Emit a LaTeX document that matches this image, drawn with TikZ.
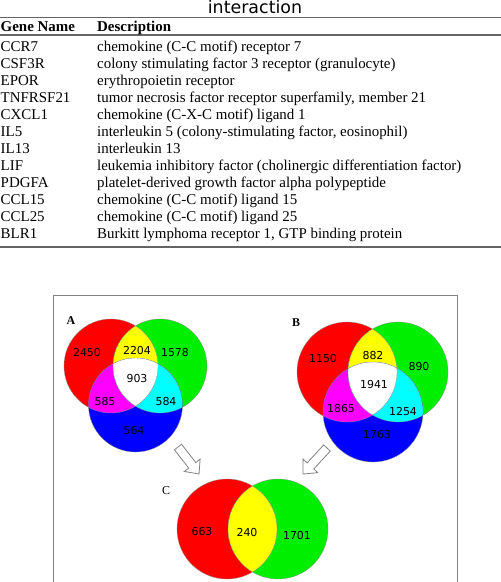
\documentclass[tikz,border=0pt]{standalone}
\usepackage{fontspec}
\setmainfont{Liberation Serif}
\newfontfamily\numfont{DejaVu Sans}
\usetikzlibrary{calc}
\definecolor{vred}{RGB}{255,0,0}
\definecolor{vgreen}{RGB}{0,238,0}
\definecolor{vblue}{RGB}{0,0,255}
\definecolor{vyellow}{RGB}{255,255,0}
\definecolor{vmag}{RGB}{255,0,255}
\definecolor{vcyan}{RGB}{0,255,255}
\definecolor{rulegray}{RGB}{100,100,100}
\definecolor{framegray}{RGB}{130,130,130}
\newcommand\vennThree[4]{%
  \fill[vred] (#1) circle[radius=#4];
  \fill[vgreen] (#2) circle[radius=#4];
  \fill[vblue] (#3) circle[radius=#4];
  \begin{scope}\clip (#1) circle[radius=#4]; \fill[vyellow] (#2) circle[radius=#4]; \end{scope}
  \begin{scope}\clip (#1) circle[radius=#4]; \fill[vmag] (#3) circle[radius=#4]; \end{scope}
  \begin{scope}\clip (#2) circle[radius=#4]; \fill[vcyan] (#3) circle[radius=#4]; \end{scope}
  \begin{scope}\clip (#1) circle[radius=#4]; \clip (#2) circle[radius=#4]; \fill[white] (#3) circle[radius=#4]; \end{scope}
  \draw[vennline] (#1) circle[radius=#4] (#2) circle[radius=#4] (#3) circle[radius=#4];
}
\newcommand\hollowArrow[2]{%
  \coordinate (ha-h) at ($(#2)!11bp!(#1)$);
  \draw[blockarrow] ($(#1)!4.5bp!90:(#2)$) -- ($(ha-h)!4.5bp!90:(#2)$) -- ($(ha-h)!10bp!90:(#2)$) -- (#2)
    -- ($(ha-h)!10bp!-90:(#2)$) -- ($(ha-h)!4.5bp!-90:(#2)$) -- ($(#1)!4.5bp!-90:(#2)$) -- cycle;
}
\begin{document}
\begin{tikzpicture}[x=1bp,y=-1bp,
  cell/.style={anchor=base west, inner sep=0pt, font=\fontsize{15}{16}\selectfont},
  headcell/.style={anchor=base west, inner sep=0pt, font=\fontsize{15}{16}\selectfont\bfseries},
  num/.style={inner sep=0pt, font=\numfont\fontsize{11}{12}\selectfont},
  panel/.style={inner sep=0pt, font=\fontsize{12}{13}\selectfont\bfseries},
  vennline/.style={draw=black!45, line width=0.3bp},
  blockarrow/.style={draw=framegray, fill=white, line width=0.8bp, line join=miter}
]
\useasboundingbox (0,0) rectangle (501,582);
\clip (0,0) rectangle (501,582);

% title and table
\node[anchor=base, inner sep=0pt, font=\numfont\fontsize{17.5}{18}\selectfont] (title) at (255,13.3) {interaction};
\draw[rulegray, line width=1.6bp] (-5,17.5) -- (506,17.5);
\draw[rulegray, line width=1.1bp] (-5,35) -- (506,35);
\draw[rulegray, line width=1.6bp] (-5,247) -- (506,247);
\node[headcell] (hg) at (0.5,31.5) {Gene Name};
\node[headcell] (hd) at (97,31.5) {Description};
\foreach \g/\d [count=\i from 0] in {
  CCR7/{chemokine (C-C motif) receptor 7},
  CSF3R/{colony stimulating factor 3 receptor (granulocyte)},
  EPOR/{erythropoietin receptor},
  TNFRSF21/{tumor necrosis factor receptor superfamily, member 21},
  CXCL1/{chemokine (C-X-C motif) ligand 1},
  IL5/{interleukin 5 (colony-stimulating factor, eosinophil)},
  IL13/{interleukin 13},
  LIF/{leukemia inhibitory factor (cholinergic differentiation factor)},
  PDGFA/{platelet-derived growth factor alpha polypeptide},
  CCL15/{chemokine (C-C motif) ligand 15},
  CCL25/{chemokine (C-C motif) ligand 25},
  BLR1/{Burkitt lymphoma receptor 1, GTP binding protein}} {
  \node[cell] (g\i) at (0.5,51.5+17*\i) {\g};
  \node[cell] (d\i) at (97,51.5+17*\i) {\d};
}

% frame
\draw[framegray, line width=1bp] (53.5,600) -- (53.5,295) -- (457,295) -- (457,600);

% Venn A
\coordinate (Ar) at (111,366);
\coordinate (Ag) at (160,366);
\coordinate (Ab) at (135.5,405);
\vennThree{Ar}{Ag}{Ab}{47bp}
\node[panel] (lA) at (71,321) {A};
\node[num] (a1) at (87,353) {2450};
\node[num] (a2) at (137,351) {2204};
\node[num] (a3) at (175,353) {1578};
\node[num] (a4) at (137,379) {903};
\node[num] (a5) at (105,402) {585};
\node[num] (a6) at (166,402) {584};
\node[num] (a7) at (134,431) {564};

% Venn B
\coordinate (Br) at (347,372);
\coordinate (Bg) at (398,372);
\coordinate (Bb) at (373,412);
\vennThree{Br}{Bg}{Bb}{50bp}
\node[panel] (lB) at (296,323) {B};
\node[num] (b1) at (323,359) {1150};
\node[num] (b2) at (373,356) {882};
\node[num] (b3) at (419,367) {890};
\node[num] (b4) at (374,385) {1941};
\node[num] (b5) at (341,409) {1865};
\node[num] (b6) at (403,412) {1254};
\node[num] (b7) at (377,435) {1763};

% Venn C
\coordinate (Cr) at (227,529);
\coordinate (Cg) at (278,529);
\fill[vred] (Cr) circle[radius=50bp];
\fill[vgreen] (Cg) circle[radius=50bp];
\begin{scope}\clip (Cr) circle[radius=50bp]; \fill[vyellow] (Cg) circle[radius=50bp]; \end{scope}
\draw[vennline] (Cr) circle[radius=50bp] (Cg) circle[radius=50bp];
\node[inner sep=0pt, font=\fontsize{12}{13}\selectfont] (lC) at (166,491) {C};
\node[num] (c1) at (202,532) {663};
\node[num] (c2) at (247,533) {240};
\node[num] (c3) at (297,536) {1701};

% arrows
\coordinate (atail) at (178,447);
\coordinate (atip) at (199,474);
\coordinate (btail) at (327,448);
\coordinate (btip) at (303,474);
\hollowArrow{atail}{atip}
\hollowArrow{btail}{btip}
\end{tikzpicture}
\end{document}
